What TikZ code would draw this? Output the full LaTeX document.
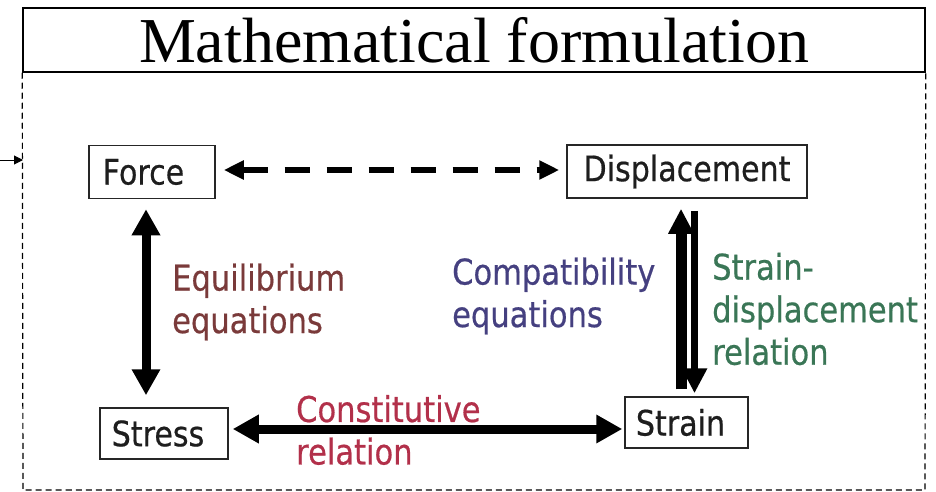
\documentclass[tikz,border=0pt]{standalone}
\usepackage{fontspec}
\setmainfont{Liberation Serif}
\newfontfamily\lbl[FakeStretch=0.86,FakeBold=0.5]{DejaVu Sans}
\usetikzlibrary{arrows.meta,calc}
\definecolor{eqcol}{HTML}{7A3A3A}
\definecolor{cocol}{HTML}{B2304A}
\definecolor{cpcol}{HTML}{454080}
\definecolor{sdcol}{HTML}{3A7656}
\definecolor{txt}{HTML}{1E1E1E}
\tikzset{
  boxnode/.style={draw=black!85, line width=1.5pt, inner sep=0pt, font=\lbl\fontsize{35}{42}\selectfont, text=txt},
  lbltext/.style={align=left, anchor=west, inner sep=0pt, font=\lbl\fontsize{35.5}{42.5}\selectfont},
  bigarrow/.style={line width=9pt, {Triangle[length=26pt,width=27pt]}-{Triangle[length=26pt,width=27pt]}},
  uparrow/.style={-{Triangle[length=25pt,width=24pt]}},
  dasharrow/.style={line width=6pt, dash pattern=on 25pt off 17pt, {Triangle[length=20pt,width=18pt]}-{Triangle[length=20pt,width=18pt]}},
  frame/.style={line width=1.2pt, dash pattern=on 6pt off 4pt}
}
\begin{document}
\begin{tikzpicture}[x=1pt,y=-1pt]
\useasboundingbox (0,0) rectangle (936,492);
% title
\node[draw, line width=1.5pt, minimum width=902pt, minimum height=64pt, inner sep=0pt,
      font=\fontsize{64}{64}\selectfont] (title) at (474,40) {Mathematical formulation};
% dashed frame
\draw[frame] (title.south west) -- (23,490) -- (925,490) -- (title.south east);
\coordinate (inframe) at (23,160);
\coordinate (outside) at (0,160);
\draw[line width=1pt, -{Triangle[length=9pt,width=9pt]}] (outside) -- (inframe);
% boxes
\node[boxnode, minimum width=126pt, minimum height=53pt] (force) at (152,172) {Force\hspace*{17pt}};
\node[boxnode, minimum width=240pt, minimum height=53pt] (disp) at (687,171.5) {Displacement};
\node[boxnode, minimum width=128pt, minimum height=51pt] (stress) at (164,433.5) {Stress\hspace*{12pt}};
\node[boxnode, minimum width=123pt, minimum height=51pt] (strain) at (686.5,422.5) {Strain\hspace*{12pt}};
% dashed arrow
\coordinate (dy) at (0,170);
\draw[dasharrow] ([xshift=8pt]force.east |- dy) -- ([xshift=-7pt]disp.west |- dy);
% equilibrium
\coordinate (eqx) at (146,0);
\draw[bigarrow] ($(eqx |- force.south)+(0,10)$) -- ($(eqx |- stress.north)+(0,-12)$);
% constitutive
\coordinate (cy) at (0,429);
\draw[bigarrow] ([xshift=4pt]stress.east |- cy) -- ([xshift=-2pt]strain.west |- cy);
% vertical pair
\coordinate (ux) at (681,0);
\coordinate (dx) at (694.5,0);
\draw[uparrow, line width=11pt] ($(ux |- strain.north)+(0,-7)$) -- ($(ux |- disp.south)+(0,10)$);
\draw[uparrow, line width=7pt] ($(dx |- disp.south)+(0,12)$) -- ($(dx |- strain.north)+(0,-3)$);
% labels
\node[lbltext, text=eqcol] (eqlbl) at (172,302) {Equilibrium\\equations};
\node[lbltext, text=cocol] (colbl) at (296,430) {Constitutive\\relation};
\node[lbltext, text=cpcol] (cplbl) at (452,296) {Compatibility\\equations};
\node[lbltext, text=sdcol] (sdlbl) at (712,309) {Strain-\\displacement\\relation};
\end{tikzpicture}
\end{document}
